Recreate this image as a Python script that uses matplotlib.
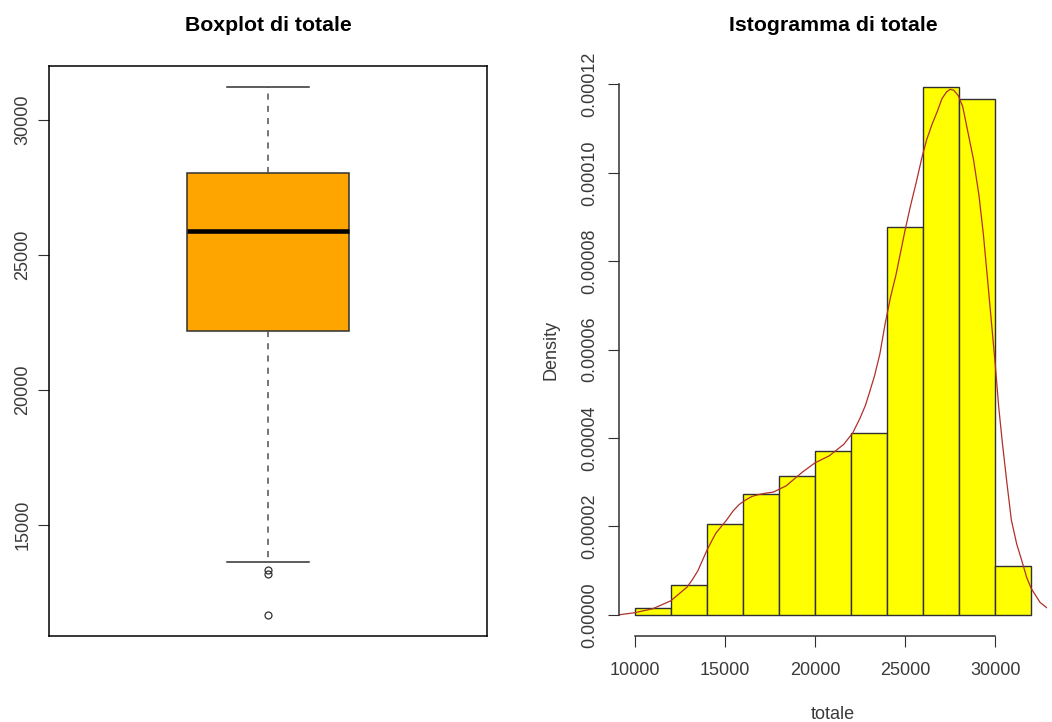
import matplotlib
matplotlib.use("Agg")
import matplotlib.pyplot as plt
from matplotlib.ticker import FormatStrFormatter

plt.rcParams['font.family'] = ['Liberation Sans', 'DejaVu Sans']

# boxplot summary of "totale"
box_q1 = 22167
box_median = 25889
box_q3 = 28022
whisker_low = 13630
whisker_high = 31211
outliers = [13344, 13185, 11678]

# histogram (density) of "totale"
bin_edges = [10000, 12000, 14000, 16000, 18000, 20000, 22000, 24000, 26000, 28000, 30000, 32000]
bin_density = [0.0000015, 0.0000068, 0.0000206, 0.0000274, 0.0000315, 0.0000371,
               0.0000411, 0.0000878, 0.0001194, 0.0001167, 0.0000110]

# kernel density curve
kde_x = [9098, 10000, 11000, 12000, 12900, 13200, 13500, 13750, 14000, 14250, 14500,
         14800, 15100, 15450, 15800, 16150, 16500, 16850, 17200, 17700, 18400, 19300,
         20000, 20800, 21600, 22100, 22500, 22800, 23000, 23300, 23450, 23600, 23900,
         24200, 24500, 24750, 25000, 25300, 25600, 25950, 26200, 26500, 26800, 27050,
         27300, 27500, 27700, 27950, 28200, 28500, 28800, 29100, 29350, 29600, 29800,
         30000, 30200, 30400, 30650, 30900, 31200, 31500, 31750, 32000, 32500, 33000]
kde_y = [0.0, 0.5e-6, 1.4e-6, 3.2e-6, 6.3e-6, 8.0e-6, 1.0e-5, 1.23e-5, 1.46e-5, 1.66e-5,
         1.85e-5, 2.0e-5, 2.15e-5, 2.35e-5, 2.5e-5, 2.6e-5, 2.68e-5, 2.72e-5, 2.75e-5,
         2.78e-5, 2.92e-5, 3.23e-5, 3.44e-5, 3.6e-5, 3.86e-5, 4.12e-5, 4.45e-5, 4.74e-5,
         5.0e-5, 5.4e-5, 5.65e-5, 5.9e-5, 6.6e-5, 7.2e-5, 7.7e-5, 8.2e-5, 8.7e-5, 9.25e-5,
         9.75e-5, 1.037e-4, 1.075e-4, 1.11e-4, 1.14e-4, 1.168e-4, 1.183e-4, 1.189e-4,
         1.187e-4, 1.175e-4, 1.15e-4, 1.09e-4, 1.03e-4, 9.5e-5, 8.6e-5, 7.5e-5, 6.6e-5,
         5.7e-5, 4.7e-5, 3.9e-5, 3.0e-5, 2.15e-5, 1.6e-5, 1.2e-5, 8.5e-6, 6.0e-6, 2.8e-6,
         1.2e-6]

W, H = 1052, 722
fig = plt.figure(figsize=(W / 100, H / 100), dpi=100)

txt_col = '#3a3a3a'
line_col = '#303030'
tick_fs = 13

# ---- left: boxplot ----
ax1 = fig.add_axes([49 / W, 1 - 636 / H, 438 / W, 570 / H])
stats = [dict(med=box_median, q1=box_q1, q3=box_q3, whislo=whisker_low,
              whishi=whisker_high, fliers=outliers)]
ax1.bxp(stats, positions=[1], widths=0.4, capwidths=0.2, patch_artist=True,
        boxprops=dict(facecolor='#FFA500', edgecolor=line_col, linewidth=1.1),
        medianprops=dict(color='black', linewidth=3.3, solid_capstyle='butt'),
        whiskerprops=dict(color='#505050', linewidth=1.1, linestyle=(0, (4, 4))),
        capprops=dict(color=line_col, linewidth=1.1),
        flierprops=dict(marker='o', markersize=5, markerfacecolor='none',
                        markeredgecolor=line_col, markeredgewidth=0.9))
ax1.set_xlim(0.46, 1.54)
lo = min(outliers + [whisker_low])
hi = whisker_high
pad = (hi - lo) * 0.04
ax1.set_ylim(lo - pad, hi + pad)
ax1.set_xticks([])
ax1.set_yticks([15000, 20000, 25000, 30000])
for s in ax1.spines.values():
    s.set_color('black')
    s.set_linewidth(1.1)
ax1.tick_params(axis='y', length=7.8, width=0.8, color=line_col, pad=5,
                labelsize=tick_fs, labelcolor=txt_col)
for lab in ax1.get_yticklabels():
    lab.set_rotation(90)
    lab.set_va('center')

# ---- right: histogram ----
ax2 = fig.add_axes([619 / W, 1 - 636 / H, 428 / W, 570 / H])
widths = [bin_edges[i + 1] - bin_edges[i] for i in range(len(bin_density))]
ax2.bar(bin_edges[:-1], bin_density, width=widths, align='edge', color='#FFFF00',
        edgecolor=line_col, linewidth=1.0)
ax2.plot(kde_x, kde_y, color='#B0302A', linewidth=0.9)
xr = bin_edges[-1] - bin_edges[0]
ax2.set_xlim(bin_edges[0] - 0.04 * xr, bin_edges[-1] + 0.04 * xr)
ymax = max(bin_density)
ax2.set_ylim(-0.04 * ymax, ymax * 1.04)
ax2.set_xticks([10000, 15000, 20000, 25000, 30000])
ax2.set_yticks([0, 0.00002, 0.00004, 0.00006, 0.00008, 0.00010, 0.00012])
ax2.yaxis.set_major_formatter(FormatStrFormatter('%.5f'))
ax2.spines['top'].set_visible(False)
ax2.spines['right'].set_visible(False)
ax2.spines['left'].set_bounds(0, 0.00012)
ax2.spines['bottom'].set_bounds(10000, 30000)
for s in ('left', 'bottom'):
    ax2.spines[s].set_color(line_col)
    ax2.spines[s].set_linewidth(1.1)
ax2.tick_params(axis='both', length=7.8, width=0.8, color=line_col,
                labelsize=tick_fs, labelcolor=txt_col)
ax2.tick_params(axis='y', pad=7)
ax2.tick_params(axis='x', pad=11)
for lab in ax2.get_yticklabels():
    lab.set_rotation(90)
    lab.set_va('center')

# titles and axis labels
fig.text(268 / W, 1 - 31 / H, 'Boxplot di totale', ha='center', va='baseline',
         fontsize=15.3, fontweight='bold')
fig.text(833 / W, 1 - 31 / H, 'Istogramma di totale', ha='center', va='baseline',
         fontsize=15.3, fontweight='bold')
fig.text(833 / W, 1 - 719 / H, 'totale', ha='center', va='baseline',
         fontsize=tick_fs, color=txt_col)
fig.text(551 / W, 1 - 350 / H, 'Density', ha='center', va='center', rotation=90,
         fontsize=tick_fs, color=txt_col)

fig.savefig('out.png', dpi=100)
